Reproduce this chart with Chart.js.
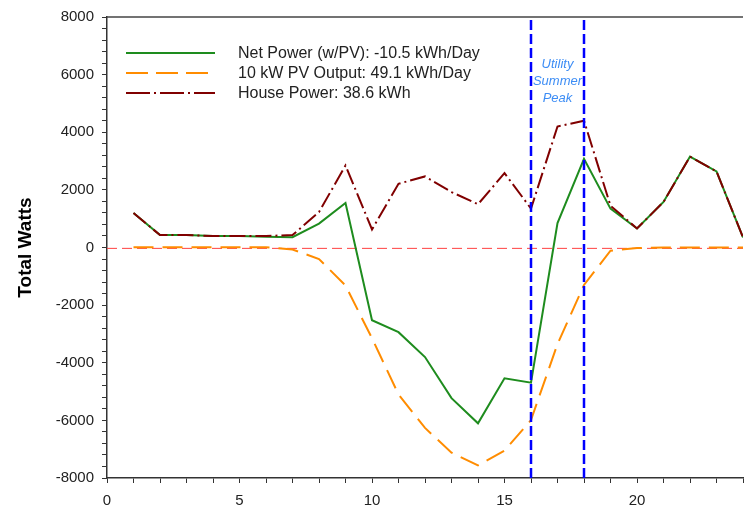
<!DOCTYPE html>
<html>
<head>
<meta charset="utf-8">
<script src="https://cdn.jsdelivr.net/npm/chart.js@4.4.1/dist/chart.umd.min.js"></script>
<style>
  html, body { margin: 0; padding: 0; overflow: hidden; background: #fff; }
  #wrap { width: 746px; height: 510px; overflow: hidden; }
</style>
</head>
<body>
<div id="wrap"><canvas id="powerChart" width="752" height="510"></canvas></div>
<script>
// horas del día y series (W)
const hours = [1, 2, 3, 4, 5, 6, 7, 8, 9, 10, 11, 12, 13, 14, 15, 16, 17, 18, 19, 20, 21, 22, 23, 24];
const netPower = [1200, 430, 430, 400, 400, 370, 360, 830, 1546, -2526, -2940, -3803, -5229, -6103, -4540, -4690, 850, 3075, 1350, 660, 1580, 3157, 2640, 350];
const pvOutput = [10, 10, 10, 10, 10, 10, -70, -400, -1320, -3150, -5100, -6260, -7120, -7560, -7050, -5990, -3350, -1300, -110, -20, 0, 0, 0, 0];
const housePower = [1200, 430, 430, 400, 400, 400, 430, 1230, 2846, 625, 2212, 2467, 1925, 1500, 2580, 1350, 4200, 4400, 1450, 660, 1580, 3157, 2640, 350];

const seriesLabels = [
    'Net Power (w/PV): -10.5 kWh/Day',
    '10 kW PV Output: 49.1 kWh/Day',
    'House Power: 38.6 kWh'
];
const peakHours = [16, 18];
const peakText = ['Utility', 'Summer', 'Peak'];
const peakTextY = [6350, 5750, 5170];
const zeroLevel = -30;
const xTicks = [0, 5, 10, 15, 20];
const yTicks = [-8000, -6000, -4000, -2000, 0, 2000, 4000, 6000, 8000];

const toPoints = vals => hours.map((h, i) => ({ x: h, y: vals[i] }));

// borde superior del área de trazado
const frameTop = {
    id: 'frameTop',
    afterDraw(chart) {
        const { ctx, chartArea } = chart;
        ctx.save();
        ctx.strokeStyle = '#444';
        ctx.lineWidth = 1.5;
        ctx.beginPath();
        ctx.moveTo(chartArea.left, chartArea.top);
        ctx.lineTo(chartArea.right, chartArea.top);
        ctx.stroke();
        ctx.restore();
    }
};

// texto "Utility Summer Peak"
const peakLabel = {
    id: 'peakLabel',
    afterDatasetsDraw(chart) {
        const { ctx, scales } = chart;
        const x = scales.x.getPixelForValue((peakHours[0] + peakHours[1]) / 2);
        ctx.save();
        ctx.font = 'italic 13px "Liberation Sans", Arial, sans-serif';
        ctx.fillStyle = '#3d8df5';
        ctx.textAlign = 'center';
        ctx.textBaseline = 'middle';
        peakText.forEach((t, i) => ctx.fillText(t, x, scales.y.getPixelForValue(peakTextY[i])));
        ctx.restore();
    }
};

// leyenda dentro del área de trazado
const innerLegend = {
    id: 'innerLegend',
    afterDatasetsDraw(chart) {
        const { ctx, chartArea } = chart;
        const items = chart.data.datasets
            .filter(d => d.legendRank !== undefined)
            .sort((a, b) => a.legendRank - b.legendRank);
        ctx.save();
        items.forEach((d, i) => {
            const y = chartArea.top + 36 + i * 20;
            ctx.strokeStyle = d.borderColor;
            ctx.lineWidth = 2;
            ctx.setLineDash(d.legendDash || []);
            ctx.beginPath();
            ctx.moveTo(chartArea.left + 19, y);
            ctx.lineTo(chartArea.left + 108, y);
            ctx.stroke();
            ctx.setLineDash([]);
            ctx.fillStyle = '#222';
            ctx.font = '16px "Liberation Sans", Arial, sans-serif';
            ctx.textBaseline = 'middle';
            ctx.fillText(d.label, chartArea.left + 131, y + 1);
        });
        ctx.restore();
    }
};

const ctx = document.getElementById('powerChart').getContext('2d');
new Chart(ctx, {
    type: 'line',
    data: {
        datasets: [
            ...peakHours.map(h => ({
                label: 'peak' + h,
                data: [{ x: h, y: yTicks[0] }, { x: h, y: yTicks[yTicks.length - 1] }],
                borderColor: '#0000ff',
                borderWidth: 2.5,
                borderDash: [10, 4],
                pointRadius: 0
            })),
            {
                label: seriesLabels[2],
                legendRank: 2,
                data: toPoints(housePower),
                borderColor: '#800000',
                borderWidth: 2,
                borderDash: [16, 4, 2, 4],
                legendDash: [24, 4, 2, 4],
                pointRadius: 0
            },
            {
                label: seriesLabels[0],
                legendRank: 0,
                data: toPoints(netPower),
                borderColor: '#1e8c1e',
                borderWidth: 2,
                pointRadius: 0
            },
            {
                label: seriesLabels[1],
                legendRank: 1,
                data: toPoints(pvOutput),
                borderColor: '#ff8c00',
                borderWidth: 2,
                borderDash: [20, 9],
                legendDash: [22, 8],
                pointRadius: 0
            },
            {
                label: 'zero',
                data: [{ x: 0, y: zeroLevel }, { x: 24, y: zeroLevel }],
                borderColor: '#ff4040',
                borderWidth: 1,
                borderDash: [10, 5],
                pointRadius: 0
            }
        ]
    },
    options: {
        responsive: false,
        devicePixelRatio: 1,
        animation: false,
        layout: { padding: { top: 14, right: 3, left: 0, bottom: 0 } },
        plugins: { legend: { display: false }, tooltip: { enabled: false } },
        scales: {
            x: {
                type: 'linear',
                min: 0,
                max: 24,
                afterFit: s => { s.height = 32; },
                ticks: {
                    stepSize: 1,
                    autoSkip: false,
                    maxRotation: 0,
                    padding: 9,
                    color: '#222',
                    font: { family: '"Liberation Sans", Arial, sans-serif', size: 15 },
                    callback: v => xTicks.includes(v) ? String(v) : ''
                },
                grid: { drawOnChartArea: false, drawTicks: true, tickLength: 5, color: '#333' },
                border: { display: true, color: '#333', width: 1.5 }
            },
            y: {
                min: -8000,
                max: 8000,
                afterFit: s => { s.width = 107; },
                title: {
                    display: true,
                    text: 'Total Watts',
                    color: '#000',
                    font: { family: '"Liberation Sans", Arial, sans-serif', size: 19, weight: 'bold' },
                    padding: { top: 14, bottom: 0 }
                },
                ticks: {
                    stepSize: 400,
                    autoSkip: false,
                    padding: 8,
                    color: '#222',
                    font: { family: '"Liberation Sans", Arial, sans-serif', size: 15 },
                    callback: v => yTicks.includes(v) ? String(v) : ''
                },
                grid: { drawOnChartArea: false, drawTicks: true, tickLength: 5, color: '#333' },
                border: { display: true, color: '#333', width: 1.5 }
            }
        }
    },
    plugins: [frameTop, peakLabel, innerLegend]
});
</script>
</body>
</html>
